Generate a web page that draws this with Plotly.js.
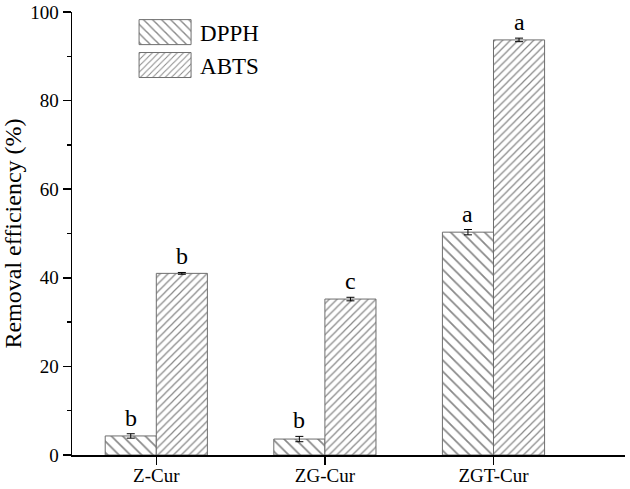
<!DOCTYPE html>
<html>
<head>
<meta charset="utf-8">
<script src="https://cdn.plot.ly/plotly-3.0.1.min.js"></script>
<style>html,body{margin:0;padding:0;background:#fff;}#chart{width:630px;height:489px;}</style>
</head>
<body>
<div id="chart"></div>
<script>
var categories = ['Z-Cur', 'ZG-Cur', 'ZGT-Cur'];
var dpph = [4.3, 3.6, 50.3];
var dpphErr = [0.5, 0.6, 0.6];
var dpphLetters = ['b', 'b', 'a'];
var abts = [41.0, 35.2, 93.7];
var abtsErr = [0.2, 0.4, 0.4];
var abtsLetters = ['b', 'c', 'a'];
var yTicks = [0, 20, 40, 60, 80, 100];

var FONT = 'Liberation Serif';
var xIdx = categories.map(function(c, i){ return i; });

function barTrace(name, vals, errs, shape, size, offset){
  return {
    type: 'bar', name: name, x: xIdx, y: vals, width: 0.303, offset: offset,
    marker: {color: '#ffffff', line: {color: '#6e6e6e', width: 1},
      pattern: {shape: shape, size: size, solidity: 0.22, fgcolor: '#111111', bgcolor: '#ffffff', fillmode: 'overlay'}},
    error_y: {type: 'data', array: errs, visible: true, color: '#000', thickness: 1, width: 4}
  };
}
var traces = [
  barTrace('DPPH', dpph, dpphErr, '\\', 8, -0.303),
  barTrace('ABTS', abts, abtsErr, '/', 5.5, 0)
];

var annotations = [];
function addLetters(vals, errs, letters, off){
  vals.forEach(function(v, i){
    annotations.push({x: xIdx[i] + off, y: v + errs[i], text: letters[i], showarrow: false,
      xref: 'x', yref: 'y', yanchor: 'bottom', yshift: 1, font: {family: FONT, size: 24, color: '#000'}});
  });
}
addLetters(dpph, dpphErr, dpphLetters, -0.1515);
addLetters(abts, abtsErr, abtsLetters, 0.1515);

var layout = {
  width: 630, height: 489,
  margin: {l: 72, r: 5, t: 12, b: 34},
  paper_bgcolor: '#fff', plot_bgcolor: '#fff',
  font: {family: FONT, color: '#000'},
  barmode: 'overlay',
  showlegend: true,
  legend: {x: 0.105, y: 1.003, xanchor: 'left', yanchor: 'top', bgcolor: 'rgba(0,0,0,0)',
    font: {family: FONT, size: 23, color: '#000'}, itemwidth: 60, tracegroupgap: 0, traceorder: 'normal'},
  xaxis: {range: [-0.5, 2.78], tickvals: xIdx, ticktext: categories, showgrid: false, zeroline: false,
    showline: true, linecolor: '#000', linewidth: 1.5, ticks: 'outside', ticklen: 8, tickwidth: 1.5, tickcolor: '#000',
    ticklabelstandoff: -5,
    tickfont: {family: FONT, size: 19, color: '#000'}},
  yaxis: {range: [0, 100], tickvals: yTicks, showgrid: false, zeroline: false,
    showline: true, linecolor: '#000', linewidth: 1.5, ticks: 'outside', ticklen: 8, tickwidth: 1.5, tickcolor: '#000',
    minor: {dtick: 10, ticks: 'outside', ticklen: 4, tickwidth: 1.5, tickcolor: '#000'},
    tickfont: {family: FONT, size: 19, color: '#000'},
    title: {text: 'Removal efficiency (%)', font: {family: FONT, size: 24, color: '#000'}, standoff: 8}},
  annotations: annotations
};

Plotly.newPlot('chart', traces, layout, {displayModeBar: false, staticPlot: true}).then(function(gd){
  var paths = gd.querySelectorAll('.legend .legendpoints path');
  paths.forEach(function(p){ p.setAttribute('d', 'M-26,-12.5H26V12.5H-26Z'); p.style.strokeWidth = '1px'; });
  gd.querySelectorAll('.legendtext, .xtick text, .ytick text').forEach(function(t){
    t.style.fontFamily = "'Liberation Serif', 'Times New Roman', serif";
  });
});
</script>
</body>
</html>
